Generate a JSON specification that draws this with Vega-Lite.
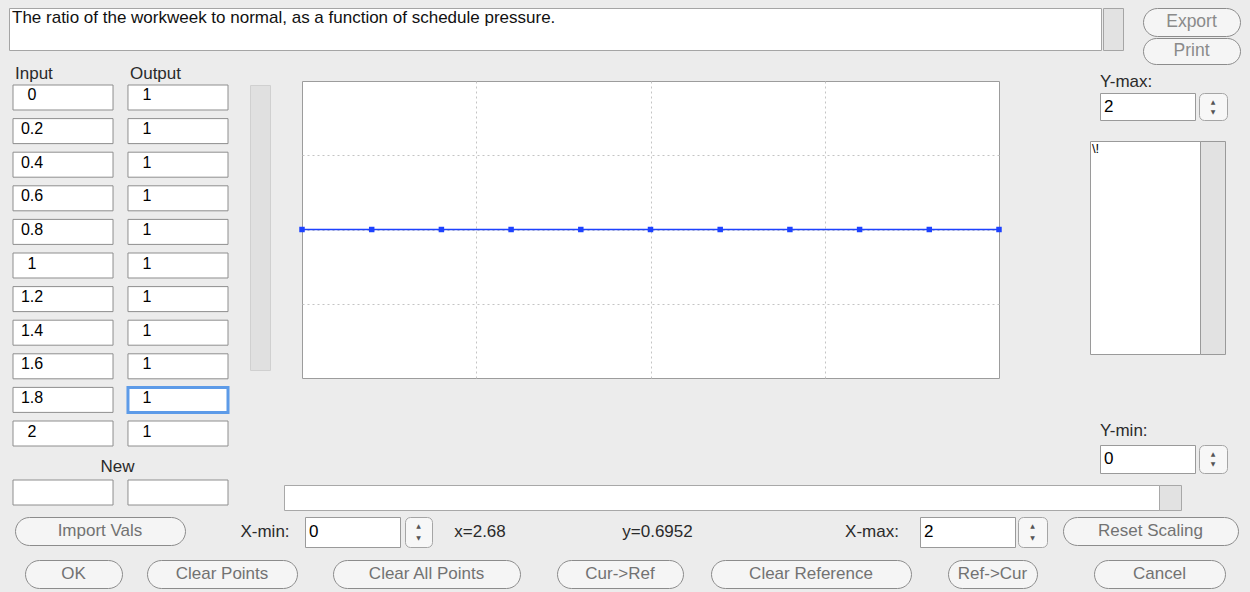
{
"$schema": "https://vega.github.io/schema/vega-lite/v6.json",
"background": "#ececec",
"padding": 0,
"spacing": 0,
"config": {"view": {"stroke": null}, "text": {"font": "Liberation Sans"}, "concat": {"spacing": 0}},
"vconcat": [
 {"width":1250,"height":7,"data":{"values":[]},"mark":"text","encoding":{}},
 {"hconcat": [
   {"width":8,"height":42,"data":{"values":[]},"mark":"text","encoding":{}},
   {"width":1092,"height":42,"view":{"fill":"#ffffff","stroke":"#a5a5a5"},
    "data":{"values":[{"k":"d","t":"The ratio of the workweek to normal, as a function of schedule pressure."}]},
    "mark":{"type":"text","fontSize":17,"color":"#111111","align":"left","baseline":"top","dx":3,"dy":2},
    "encoding":{"x":{"field":"k","type":"nominal","axis":null,"bandPosition":0,"scale":{"type":"band","paddingInner":0,"paddingOuter":0}},
                "y":{"field":"k","type":"nominal","axis":null,"bandPosition":0,"scale":{"type":"band","paddingInner":0,"paddingOuter":0}},
                "text":{"field":"t"}}},
   {"width":20,"height":42,"view":{"fill":"#e2e2e2","stroke":"#a5a5a5"},"data":{"values":[]},"mark":"text","encoding":{}},
   {"width":18,"height":42,"data":{"values":[]},"mark":"text","encoding":{}},
   {"vconcat":[
     {"width":97,"height":28,"view":{"fill":"#f5f5f5","stroke":"#8c8c8c","cornerRadius":14},"data":{"values":[{"t":"Export"}]},"mark":{"type":"text","fontSize":17.5,"color":"#8a8a8a"},"encoding":{"text":{"field":"t"}}},
     {"width":97,"height":2,"data":{"values":[]},"mark":"text","encoding":{}},
     {"width":97,"height":26,"view":{"fill":"#f5f5f5","stroke":"#8c8c8c","cornerRadius":13},"data":{"values":[{"t":"Print"}]},"mark":{"type":"text","fontSize":17.5,"color":"#8a8a8a"},"encoding":{"text":{"field":"t"}}}
   ],"spacing":0,"bounds":"flush"}
 ],"spacing":0},
 {"hconcat": [
   {"width":12,"height":10,"data":{"values":[]},"mark":"text","encoding":{}},
   {"vconcat":[
     {"width":215,"height":16,"data":{"values":[{"col":"Input"},{"col":"Output"}]},
      "mark":{"type":"text","fontSize":17,"color":"#2a2a2a","align":"left","dx":2},
      "encoding":{"x":{"field":"col","type":"nominal","sort":["Input","Output"],"axis":null,"bandPosition":0,"scale":{"type":"band","paddingInner":0.13,"paddingOuter":0}},
                  "text":{"field":"col"}}},
     {"width":215,"height":3,"data":{"values":[]},"mark":"text","encoding":{}},
     {"width":215,"height":361,
      "data":{"values":[
        {"row":0,"col":"Input","v":"0"},{"row":0,"col":"Output","v":"1"},
        {"row":1,"col":"Input","v":"0.2"},{"row":1,"col":"Output","v":"1"},
        {"row":2,"col":"Input","v":"0.4"},{"row":2,"col":"Output","v":"1"},
        {"row":3,"col":"Input","v":"0.6"},{"row":3,"col":"Output","v":"1"},
        {"row":4,"col":"Input","v":"0.8"},{"row":4,"col":"Output","v":"1"},
        {"row":5,"col":"Input","v":"1"},{"row":5,"col":"Output","v":"1"},
        {"row":6,"col":"Input","v":"1.2"},{"row":6,"col":"Output","v":"1"},
        {"row":7,"col":"Input","v":"1.4"},{"row":7,"col":"Output","v":"1"},
        {"row":8,"col":"Input","v":"1.6"},{"row":8,"col":"Output","v":"1"},
        {"row":9,"col":"Input","v":"1.8"},{"row":9,"col":"Output","v":"1","focus":true},
        {"row":10,"col":"Input","v":"2"},{"row":10,"col":"Output","v":"1"}
      ]},
      "encoding":{
        "y":{"field":"row","type":"ordinal","axis":null,"scale":{"type":"band","paddingInner":0.256,"paddingOuter":0}}
      },
      "layer":[
        {"mark":{"type":"rect","fill":"#ffffff"},
         "encoding":{"x":{"field":"col","type":"nominal","sort":["Input","Output"],"axis":null,"scale":{"type":"band","paddingInner":0.13,"paddingOuter":0}},
                     "stroke":{"condition":{"test":"datum.focus","value":"#5d9be8"},"value":"#8e8e8e"},
                     "strokeWidth":{"condition":{"test":"datum.focus","value":3},"value":1}}},
        {"mark":{"type":"text","fontSize":16,"color":"#000000","align":"center","dx":19,"dy":-2},
         "encoding":{"x":{"field":"col","type":"nominal","sort":["Input","Output"],"axis":null,"bandPosition":0,"scale":{"type":"band","paddingInner":0.13,"paddingOuter":0}},
                     "text":{"field":"v"}}}
      ]},
     {"width":215,"height":11,"data":{"values":[]},"mark":"text","encoding":{}},
     {"width":215,"height":20,"data":{"values":[{"t":"New"}]},"mark":{"type":"text","fontSize":17,"color":"#2a2a2a","dx":-3},"encoding":{"text":{"field":"t"}}},
     {"width":215,"height":3,"data":{"values":[]},"mark":"text","encoding":{}},
     {"width":215,"height":25,"data":{"values":[{"col":"Input"},{"col":"Output"}]},
      "mark":{"type":"rect","fill":"#ffffff","stroke":"#8e8e8e","strokeWidth":1},
      "encoding":{"x":{"field":"col","type":"nominal","sort":["Input","Output"],"axis":null,"scale":{"type":"band","paddingInner":0.13,"paddingOuter":0}}}}
   ],"spacing":0,"bounds":"flush"},
   {"width":19,"height":10,"data":{"values":[]},"mark":"text","encoding":{}},
   {"vconcat":[
     {"width":20,"height":19,"data":{"values":[]},"mark":"text","encoding":{}},
     {"width":20,"height":285,"view":{"fill":"#e0e0e0","stroke":"#d0d0d0"},"data":{"values":[]},"mark":"text","encoding":{}}
   ],"spacing":0,"bounds":"flush"},
   {"vconcat":[
     {"hconcat":[
       {"width":27,"height":10,"data":{"values":[]},"mark":"text","encoding":{}},
       {"vconcat":[
         {"width":697,"height":15,"data":{"values":[]},"mark":"text","encoding":{}},
         {"width":697,"height":297,"view":{"fill":"#ffffff","stroke":"#9c9c9c"},
          "data":{"values":[
            {"input":0,"output":1},{"input":0.2,"output":1},{"input":0.4,"output":1},{"input":0.6,"output":1},
            {"input":0.8,"output":1},{"input":1,"output":1},{"input":1.2,"output":1},{"input":1.4,"output":1},
            {"input":1.6,"output":1},{"input":1.8,"output":1},{"input":2,"output":1}
          ]},
          "mark":{"type":"line","color":"#1d42ff","strokeWidth":1.5,"point":{"shape":"square","filled":true,"size":30,"color":"#1d42ff"}},
          "encoding":{
            "x":{"field":"input","type":"quantitative","scale":{"domain":[0,2],"nice":false,"zero":false},
                 "axis":{"values":[0.5,1,1.5],"grid":true,"gridDash":[2,3],"gridColor":"#c4c4c4","gridWidth":1,"labels":false,"ticks":false,"domain":false,"title":null}},
            "y":{"field":"output","type":"quantitative","scale":{"domain":[0,2],"nice":false,"zero":false},
                 "axis":{"values":[0.5,1,1.5],"grid":true,"gridDash":[2,3],"gridColor":"#c4c4c4","gridWidth":1,"labels":false,"ticks":false,"domain":false,"title":null}}
          }}
       ],"spacing":0,"bounds":"flush"},
       {"width":86,"height":10,"data":{"values":[]},"mark":"text","encoding":{}},
       {"vconcat":[
         {"width":137,"height":6,"data":{"values":[]},"mark":"text","encoding":{}},
         {"width":137,"height":20,"data":{"values":[{"t":"Y-max:"}]},"mark":{"type":"text","fontSize":17,"color":"#2a2a2a","align":"left","dx":10},
          "encoding":{"x":{"field":"t","type":"nominal","axis":null,"bandPosition":0,"scale":{"type":"band","paddingInner":0,"paddingOuter":0}},"text":{"field":"t"}}},
         {"hconcat":[
           {"width":10,"height":27,"data":{"values":[]},"mark":"text","encoding":{}},
           {"width":95,"height":27,"view":{"fill":"#ffffff","stroke":"#9a9a9a"},"data":{"values":[{"k":"Y-max","t":"2"}]},
            "mark":{"type":"text","fontSize":17,"color":"#000000","align":"left","dx":4},
            "encoding":{"x":{"field":"k","type":"nominal","axis":null,"bandPosition":0,"scale":{"type":"band","paddingInner":0,"paddingOuter":0}},"text":{"field":"t"}}},
           {"width":4,"height":27,"data":{"values":[]},"mark":"text","encoding":{}},
           {"width":28,"height":27,"view":{"fill":"#f7f7f7","stroke":"#a5a5a5","cornerRadius":5},"data":{"values":[{"a":"▲","p":"u"},{"a":"▼","p":"d"}]},
            "mark":{"type":"text","fontSize":6,"color":"#555555","font":"DejaVu Sans"},
            "encoding":{"y":{"field":"p","type":"nominal","sort":["u","d"],"axis":null,"scale":{"type":"band","paddingInner":0,"paddingOuter":0.35}},"text":{"field":"a"}}}
         ],"spacing":0,"bounds":"flush"},
         {"width":137,"height":19,"data":{"values":[]},"mark":"text","encoding":{}},
         {"hconcat":[
           {"width":110,"height":213,"view":{"fill":"#ffffff","stroke":"#9a9a9a"},"data":{"values":[{"k":"l","t":"\\!"}]},
            "mark":{"type":"text","fontSize":13,"color":"#000000","align":"left","baseline":"top","dx":2,"dy":2},
            "encoding":{"x":{"field":"k","type":"nominal","axis":null,"bandPosition":0,"scale":{"type":"band","paddingInner":0,"paddingOuter":0}},
                        "y":{"field":"k","type":"nominal","axis":null,"bandPosition":0,"scale":{"type":"band","paddingInner":0,"paddingOuter":0}},
                        "text":{"field":"t"}}},
           {"width":25,"height":213,"view":{"fill":"#e2e2e2","stroke":"#9a9a9a"},"data":{"values":[]},"mark":"text","encoding":{}}
         ],"spacing":0,"bounds":"flush"},
         {"width":137,"height":66,"data":{"values":[]},"mark":"text","encoding":{}},
         {"width":137,"height":20,"data":{"values":[{"t":"Y-min:"}]},"mark":{"type":"text","fontSize":17,"color":"#2a2a2a","align":"left","dx":10},
          "encoding":{"x":{"field":"t","type":"nominal","axis":null,"bandPosition":0,"scale":{"type":"band","paddingInner":0,"paddingOuter":0}},"text":{"field":"t"}}},
         {"width":137,"height":3,"data":{"values":[]},"mark":"text","encoding":{}},
         {"hconcat":[
           {"width":10,"height":28,"data":{"values":[]},"mark":"text","encoding":{}},
           {"width":95,"height":28,"view":{"fill":"#ffffff","stroke":"#9a9a9a"},"data":{"values":[{"k":"Y-min","t":"0"}]},
            "mark":{"type":"text","fontSize":17,"color":"#000000","align":"left","dx":4},
            "encoding":{"x":{"field":"k","type":"nominal","axis":null,"bandPosition":0,"scale":{"type":"band","paddingInner":0,"paddingOuter":0}},"text":{"field":"t"}}},
           {"width":4,"height":28,"data":{"values":[]},"mark":"text","encoding":{}},
           {"width":28,"height":28,"view":{"fill":"#f7f7f7","stroke":"#a5a5a5","cornerRadius":5},"data":{"values":[{"a":"▲","p":"u"},{"a":"▼","p":"d"}]},
            "mark":{"type":"text","fontSize":6,"color":"#555555","font":"DejaVu Sans"},
            "encoding":{"y":{"field":"p","type":"nominal","sort":["u","d"],"axis":null,"scale":{"type":"band","paddingInner":0,"paddingOuter":0.35}},"text":{"field":"a"}}}
         ],"spacing":0,"bounds":"flush"}
       ],"spacing":0}
     ],"spacing":0},
     {"width":900,"height":10,"data":{"values":[]},"mark":"text","encoding":{}},
     {"hconcat":[
       {"width":13,"height":25,"data":{"values":[]},"mark":"text","encoding":{}},
       {"width":875,"height":25,"view":{"fill":"#ffffff","stroke":"#a8a8a8"},"data":{"values":[]},"mark":"text","encoding":{}},
       {"width":22,"height":25,"view":{"fill":"#e2e2e2","stroke":"#a8a8a8"},"data":{"values":[]},"mark":"text","encoding":{}}
     ],"spacing":0,"bounds":"flush"}
   ],"spacing":0}
 ],"spacing":0},
 {"width":1250,"height":5,"data":{"values":[]},"mark":"text","encoding":{}},
 {"hconcat":[
   {"width":15,"height":30,"data":{"values":[]},"mark":"text","encoding":{}},
   {"width":170,"height":28,"view":{"fill":"#f5f5f5","stroke":"#8c8c8c","cornerRadius":14},"data":{"values":[{"t":"Import Vals"}]},"mark":{"type":"text","fontSize":17,"color":"#727272"},"encoding":{"text":{"field":"t"}}},
   {"width":45,"height":30,"data":{"values":[]},"mark":"text","encoding":{}},
   {"width":70,"height":30,"data":{"values":[{"t":"X-min:"}]},"mark":{"type":"text","fontSize":17,"color":"#2a2a2a"},"encoding":{"text":{"field":"t"}}},
   {"width":5,"height":30,"data":{"values":[]},"mark":"text","encoding":{}},
   {"width":95,"height":30,"view":{"fill":"#ffffff","stroke":"#9a9a9a"},"data":{"values":[{"k":"X-min","t":"0"}]},
    "mark":{"type":"text","fontSize":17,"color":"#000000","align":"left","dx":4},
    "encoding":{"x":{"field":"k","type":"nominal","axis":null,"bandPosition":0,"scale":{"type":"band","paddingInner":0,"paddingOuter":0}},"text":{"field":"t"}}},
   {"width":5,"height":30,"data":{"values":[]},"mark":"text","encoding":{}},
   {"width":27,"height":30,"view":{"fill":"#f7f7f7","stroke":"#a5a5a5","cornerRadius":5},"data":{"values":[{"a":"▲","p":"u"},{"a":"▼","p":"d"}]},
    "mark":{"type":"text","fontSize":6,"color":"#555555","font":"DejaVu Sans"},
    "encoding":{"y":{"field":"p","type":"nominal","sort":["u","d"],"axis":null,"scale":{"type":"band","paddingInner":0,"paddingOuter":0.35}},"text":{"field":"a"}}},
   {"width":18,"height":30,"data":{"values":[]},"mark":"text","encoding":{}},
   {"width":60,"height":30,"data":{"values":[{"t":"x=2.68"}]},"mark":{"type":"text","fontSize":17,"color":"#2a2a2a"},"encoding":{"text":{"field":"t"}}},
   {"width":105,"height":30,"data":{"values":[]},"mark":"text","encoding":{}},
   {"width":85,"height":30,"data":{"values":[{"t":"y=0.6952"}]},"mark":{"type":"text","fontSize":17,"color":"#2a2a2a"},"encoding":{"text":{"field":"t"}}},
   {"width":142,"height":30,"data":{"values":[]},"mark":"text","encoding":{}},
   {"width":60,"height":30,"data":{"values":[{"t":"X-max:"}]},"mark":{"type":"text","fontSize":17,"color":"#2a2a2a"},"encoding":{"text":{"field":"t"}}},
   {"width":18,"height":30,"data":{"values":[]},"mark":"text","encoding":{}},
   {"width":95,"height":30,"view":{"fill":"#ffffff","stroke":"#9a9a9a"},"data":{"values":[{"k":"X-max","t":"2"}]},
    "mark":{"type":"text","fontSize":17,"color":"#000000","align":"left","dx":4},
    "encoding":{"x":{"field":"k","type":"nominal","axis":null,"bandPosition":0,"scale":{"type":"band","paddingInner":0,"paddingOuter":0}},"text":{"field":"t"}}},
   {"width":3,"height":30,"data":{"values":[]},"mark":"text","encoding":{}},
   {"width":29,"height":30,"view":{"fill":"#f7f7f7","stroke":"#a5a5a5","cornerRadius":5},"data":{"values":[{"a":"▲","p":"u"},{"a":"▼","p":"d"}]},
    "mark":{"type":"text","fontSize":6,"color":"#555555","font":"DejaVu Sans"},
    "encoding":{"y":{"field":"p","type":"nominal","sort":["u","d"],"axis":null,"scale":{"type":"band","paddingInner":0,"paddingOuter":0.35}},"text":{"field":"a"}}},
   {"width":16,"height":30,"data":{"values":[]},"mark":"text","encoding":{}},
   {"width":175,"height":28,"view":{"fill":"#f5f5f5","stroke":"#8c8c8c","cornerRadius":14},"data":{"values":[{"t":"Reset Scaling"}]},"mark":{"type":"text","fontSize":17,"color":"#727272"},"encoding":{"text":{"field":"t"}}}
 ],"spacing":0,"bounds":"flush"},
 {"width":1250,"height":11,"data":{"values":[]},"mark":"text","encoding":{}},
 {"hconcat":[
   {"width":25,"height":28,"data":{"values":[]},"mark":"text","encoding":{}},
   {"width":97,"height":28,"view":{"fill":"#f5f5f5","stroke":"#8c8c8c","cornerRadius":14},"data":{"values":[{"t":"OK"}]},"mark":{"type":"text","fontSize":17,"color":"#727272"},"encoding":{"text":{"field":"t"}}},
   {"width":25,"height":28,"data":{"values":[]},"mark":"text","encoding":{}},
   {"width":150,"height":28,"view":{"fill":"#f5f5f5","stroke":"#8c8c8c","cornerRadius":14},"data":{"values":[{"t":"Clear Points"}]},"mark":{"type":"text","fontSize":17,"color":"#727272"},"encoding":{"text":{"field":"t"}}},
   {"width":36,"height":28,"data":{"values":[]},"mark":"text","encoding":{}},
   {"width":187,"height":28,"view":{"fill":"#f5f5f5","stroke":"#8c8c8c","cornerRadius":14},"data":{"values":[{"t":"Clear All Points"}]},"mark":{"type":"text","fontSize":17,"color":"#727272"},"encoding":{"text":{"field":"t"}}},
   {"width":37,"height":28,"data":{"values":[]},"mark":"text","encoding":{}},
   {"width":126,"height":28,"view":{"fill":"#f5f5f5","stroke":"#8c8c8c","cornerRadius":14},"data":{"values":[{"t":"Cur->Ref"}]},"mark":{"type":"text","fontSize":17,"color":"#727272"},"encoding":{"text":{"field":"t"}}},
   {"width":28,"height":28,"data":{"values":[]},"mark":"text","encoding":{}},
   {"width":200,"height":28,"view":{"fill":"#f5f5f5","stroke":"#8c8c8c","cornerRadius":14},"data":{"values":[{"t":"Clear Reference"}]},"mark":{"type":"text","fontSize":17,"color":"#727272"},"encoding":{"text":{"field":"t"}}},
   {"width":37,"height":28,"data":{"values":[]},"mark":"text","encoding":{}},
   {"width":89,"height":28,"view":{"fill":"#f5f5f5","stroke":"#8c8c8c","cornerRadius":14},"data":{"values":[{"t":"Ref->Cur"}]},"mark":{"type":"text","fontSize":17,"color":"#727272"},"encoding":{"text":{"field":"t"}}},
   {"width":57,"height":28,"data":{"values":[]},"mark":"text","encoding":{}},
   {"width":131,"height":28,"view":{"fill":"#f5f5f5","stroke":"#8c8c8c","cornerRadius":14},"data":{"values":[{"t":"Cancel"}]},"mark":{"type":"text","fontSize":17,"color":"#727272"},"encoding":{"text":{"field":"t"}}}
 ],"spacing":0,"bounds":"flush"},
 {"width":1250,"height":4,"data":{"values":[]},"mark":"text","encoding":{}}
]
}
